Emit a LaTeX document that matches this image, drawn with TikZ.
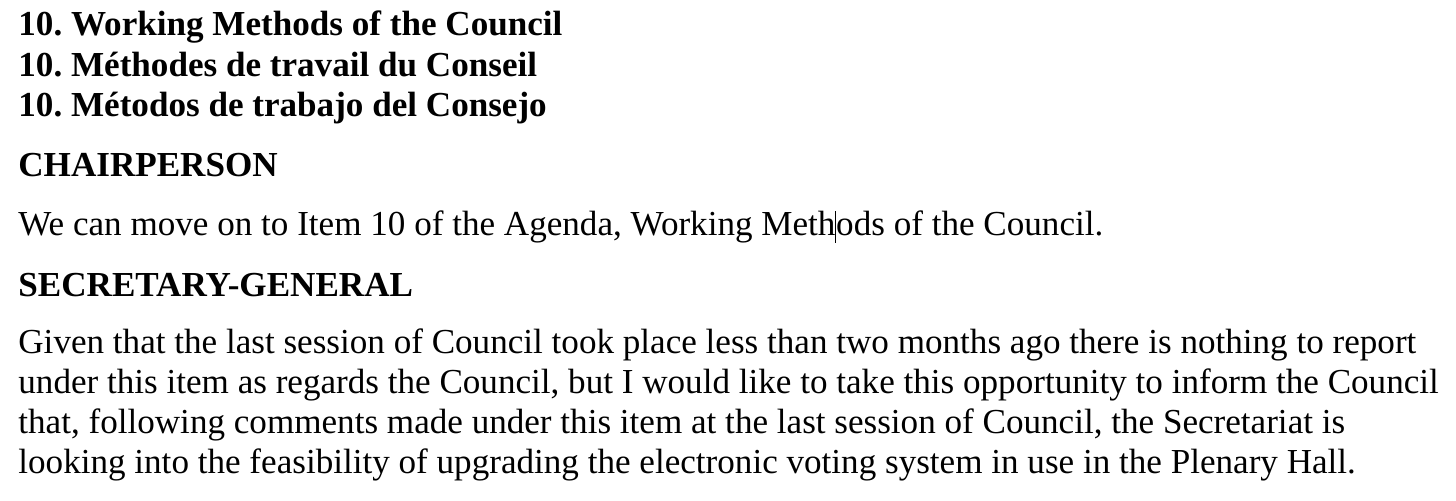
\documentclass[tikz,border=0pt]{standalone}
\usepackage{fontspec}
\setmainfont{Liberation Serif}
\frenchspacing
\tikzset{
  doc-text/.style={
    anchor=base west,
    inner sep=0pt,
    font=\fontsize{17.55pt}{20pt}\selectfont
  },
  title-line/.style={
    doc-text,
    font=\fontsize{17.55pt}{20pt}\selectfont\bfseries
  },
  speaker/.style={
    title-line
  },
  body-line/.style={
    doc-text
  },
  cursor/.style={line width=0.5pt, draw=black}
}

\begin{document}
\begin{tikzpicture}[x=0.5pt, y=-0.5pt]
  \useasboundingbox (0,0) rectangle (1456,500);
  % Agenda item heading
  \node[title-line] (T1) at (18,35) {10. Working Methods of the Council};
  \node[title-line] (T2) at (18,76) {10. Méthodes de travail du Conseil};
  \node[title-line] (T3) at (18,116) {10. Métodos de trabajo del Consejo};
  % Chairperson
  \node[speaker] (Chair) at (18,176) {CHAIRPERSON};
  \node[body-line] (C1) at (18,235) {We can move on to Item 10 of the Agenda, Working Meth};
  \node[body-line] (C1b) at (C1.base east) {ods of the Council.};
  % Secretary-General
  \node[speaker] (SG) at (18,296) {SECRETARY-GENERAL};
  \node[body-line] (S1) at (18,353) {Given that the last session of Council took place less than two months ago there is nothing to report};
  \node[body-line] (S2) at (18,393) {under this item as regards the Council, but I would like to take this opportunity to inform the Council};
  \node[body-line] (S3) at (18,433) {that, following comments made under this item at the last session of Council, the Secretariat is};
  \node[body-line] (S4) at (18,473) {looking into the feasibility of upgrading the electronic voting system in use in the Plenary Hall.};
  % Text cursor
  \coordinate (CurTop) at ([yshift=12pt]C1.base east);
  \coordinate (CurBot) at ([yshift=-4pt]C1.base east);
  \draw[cursor] (CurTop) -- (CurBot);
\end{tikzpicture}
\end{document}
